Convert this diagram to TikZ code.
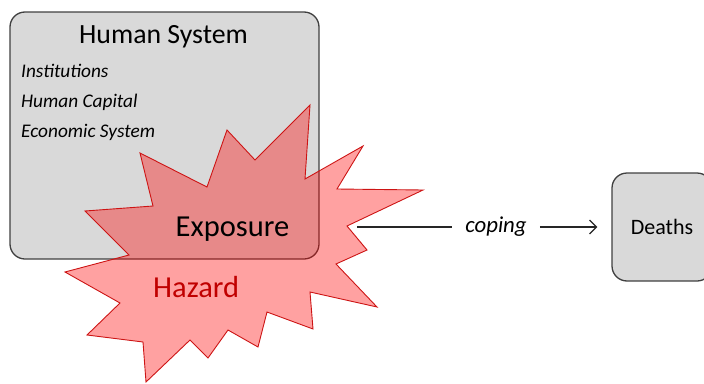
\documentclass[tikz,border=0pt]{standalone}
\usepackage{fontspec}
\setmainfont{Carlito}
\usetikzlibrary{arrows.meta}

\definecolor{boxgray}{RGB}{217,217,217}
\definecolor{edgegray}{RGB}{64,64,64}
\definecolor{hazardred}{RGB}{192,0,0}
\definecolor{starline}{RGB}{205,20,20}

\tikzset{
  sysbox/.style={draw=edgegray, line width=1.3pt, fill=boxgray, rounded corners=15pt},
  hazardstar/.style={draw=starline, line width=0.9pt, fill=red, fill opacity=0.37, line join=miter},
  itemtext/.style={anchor=base west, inner sep=0pt, font=\fontsize{19.3}{21}\selectfont\itshape},
  bigtext/.style={anchor=base west, inner sep=0pt, font=\fontsize{30.5}{34}\selectfont},
  flow/.style={draw=black!85, line width=1.2pt}
}

\begin{document}
\begin{tikzpicture}[x=1pt, y=-1pt]
		%%%%% FRAME %%%%%
		\useasboundingbox (0,0) rectangle (704,383);
		\clip (0,0) rectangle (704,383);
		
		%%%%% BOXES %%%%%
		\node[sysbox, minimum width=309pt, minimum height=247pt] (human) at (164.5,135.5) {};
		\node[sysbox, minimum width=100pt, minimum height=108pt, font=\fontsize{22}{26}\selectfont] (deaths) at (662,227) {Deaths};
		
		%%%%% STAR %%%%%
		\draw[hazardstar] (310,105) -- (305,179) -- (363,146) -- (337,189) -- (423,190) -- (347,226)
			-- (367,250) -- (336,264) -- (377,307) -- (310,292) -- (313,329) -- (267,312)
			-- (258,347) -- (228,330) -- (208,358) -- (190,340) -- (146,382) -- (143,342)
			-- (87,335) -- (120,303) -- (65,272) -- (129,255) -- (85,211) -- (153,206)
			-- (140,153) -- (207,187) -- (227,130) -- (255,160) -- cycle;
		\coordinate (cope) at (357,227);
		
		%%%%% TEXT %%%%%
		\node[anchor=base, inner sep=0pt, font=\fontsize{27.8}{32}\selectfont] (title) at (163.5,43) {Human System};
		\node[itemtext] (inst) at (21,77) {Institutions};
		\node[itemtext] (capital) at (21,107) {Human Capital};
		\node[itemtext] (econ) at (21,137) {Economic System};
		\node[bigtext] (exposure) at (175.5,236) {Exposure};
		\node[bigtext, text=hazardred] (hazard) at (153,297) {Hazard};
		
		%%%%% COPING %%%%%
		\node[inner xsep=13pt, inner ysep=2pt, font=\fontsize{22.8}{26}\selectfont\itshape] (coping) at (496,227) {coping};
		\draw[flow] (cope) -- (coping.west |- cope);
		\draw[flow, -{Straight Barb[length=7pt, width=14pt]}, shorten >=14pt] (coping.east |- cope) -- (deaths.west);
		%%%%% END %%%%%
	\end{tikzpicture}
\end{document}
